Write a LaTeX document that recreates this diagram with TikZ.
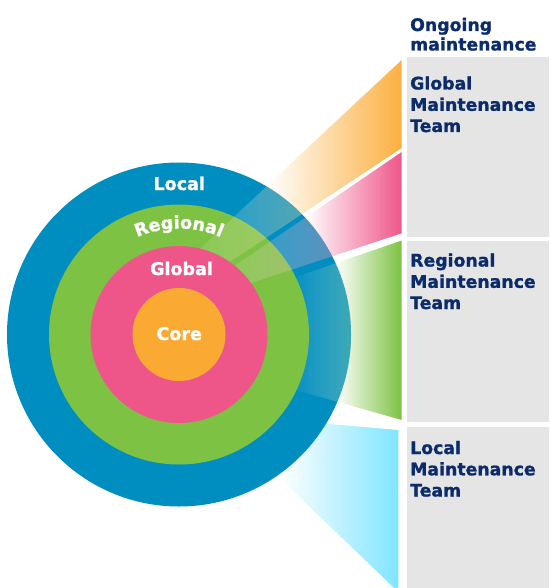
\documentclass[tikz,border=0pt]{standalone}
\usepackage{fontspec}
\setmainfont{DejaVu Sans}[BoldFeatures={FakeBold=1.2}]
\usetikzlibrary{fadings,decorations.text}

\definecolor{blueC}{RGB}{0,142,192}
\definecolor{greenC}{RGB}{125,194,66}
\definecolor{pinkC}{RGB}{238,86,137}
\definecolor{coreC}{RGB}{250,170,50}
\definecolor{orangeB}{RGB}{251,176,64}
\definecolor{cyanB}{RGB}{128,229,255}
\definecolor{boxC}{RGB}{229,229,229}
\definecolor{navyC}{RGB}{11,43,106}

\tikzfading[name=beamfade, left color=transparent!90, right color=transparent!45]
\tikzfading[name=greenfade, left color=transparent!100, right color=transparent!40]

\newcommand\lblfont{\fontsize{17.5}{20}\selectfont\bfseries}
\newcommand\boxfont{\fontsize{17.3}{21}\selectfont\bfseries}

\begin{document}
\begin{tikzpicture}[x=1pt,y=-1pt,
  ring/.style={circle, inner sep=0pt, minimum size=#1},
  boxbg/.style={fill=boxC, draw=none},
  boxtxt/.style={anchor=base west, inner sep=0pt, text=navyC, font=\boxfont},
  lbl/.style={anchor=base, inner sep=0pt, text=white, font=\lblfont},
  beamout/.style={left color=white, right color=#1},
  beamin/.style={left color=white, right color=#1, path fading=beamfade, fit fading=true}
]
\useasboundingbox (0,0) rectangle (549,588);

% grey boxes
\fill[boxbg] (407,57) rectangle (549,237);
\fill[boxbg] (407,241) rectangle (549,422);
\fill[boxbg] (407,427) rectangle (549,588);

% beams outside the circle
\shade[beamout=orangeB] (267,185.8) -- (401.7,60) -- (401.7,148) -- (302,214.1) -- cycle;
\shade[beamout=pinkC] (305,217.9) -- (401.7,152) -- (401.7,233.3) -- (332,256.3) -- cycle;
\shade[beamout=greenC] (335.5,263.3) -- (401.7,240.5) -- (401.7,420) -- (337.5,401.8) -- cycle;
\shade[beamout=cyanB] (326.5,423.8) -- (398.3,430) -- (398.3,592) -- (279,477.5) -- cycle;

% outer ring
\node[ring=344pt, fill=blueC] (local) at (179,334.5) {};

% green beam over the outer ring
\begin{scope}
  \clip (179,334.5) circle[radius=172pt];
  \shade[left color=white, right color=greenC, path fading=greenfade, fit fading=true]
    (290,279) -- (401.7,240.5) -- (401.7,420) -- (290,388.4) -- cycle;
\end{scope}

\node[ring=260pt, fill=greenC] (regional) at (179,334.5) {};

% beams over the rings
\begin{scope}
  \clip (179,334.5) circle[radius=172pt];
  \shade[beamin=orangeB] (195,253.3) -- (401.7,60) -- (401.7,148) -- (195,285) -- cycle;
  \shade[beamin=pinkC] (220,275.7) -- (401.7,152) -- (401.7,233.3) -- (220,293.3) -- cycle;
\end{scope}

\node[ring=177pt, fill=pinkC] (global) at (179,334.5) {};
\node[ring=93pt, fill=coreC] (core) at (179,334.5) {};

% ring labels
\node[lbl] (tlocal) at (179.2,190) {Local};
\node[lbl] (tglobal) at (181.5,275) {Global};
\node[lbl] (tcore) at (179.2,340) {Core};
\path[decorate, decoration={text along path, text align=center,
  text={|\lblfont\color{white}|Regional}}]
  (179,334.5) ++(240:106) arc[start angle=240, end angle=300, radius=106];

% headings
\node[boxtxt] (h1) at (410,31) {Ongoing};
\node[boxtxt] (h2) at (410,50.5) {maintenance};

\node[boxtxt] (g1) at (410,89.5) {Global};
\node[boxtxt] (g2) at (410,110.8) {Maintenance};
\node[boxtxt] (g3) at (410,132) {Team};

\node[boxtxt] (r1) at (410,266.5) {Regional};
\node[boxtxt] (r2) at (410,287.8) {Maintenance};
\node[boxtxt] (r3) at (410,309) {Team};

\node[boxtxt] (l1) at (410,454) {Local};
\node[boxtxt] (l2) at (410,475.3) {Maintenance};
\node[boxtxt] (l3) at (410,496.5) {Team};
\end{tikzpicture}
\end{document}
